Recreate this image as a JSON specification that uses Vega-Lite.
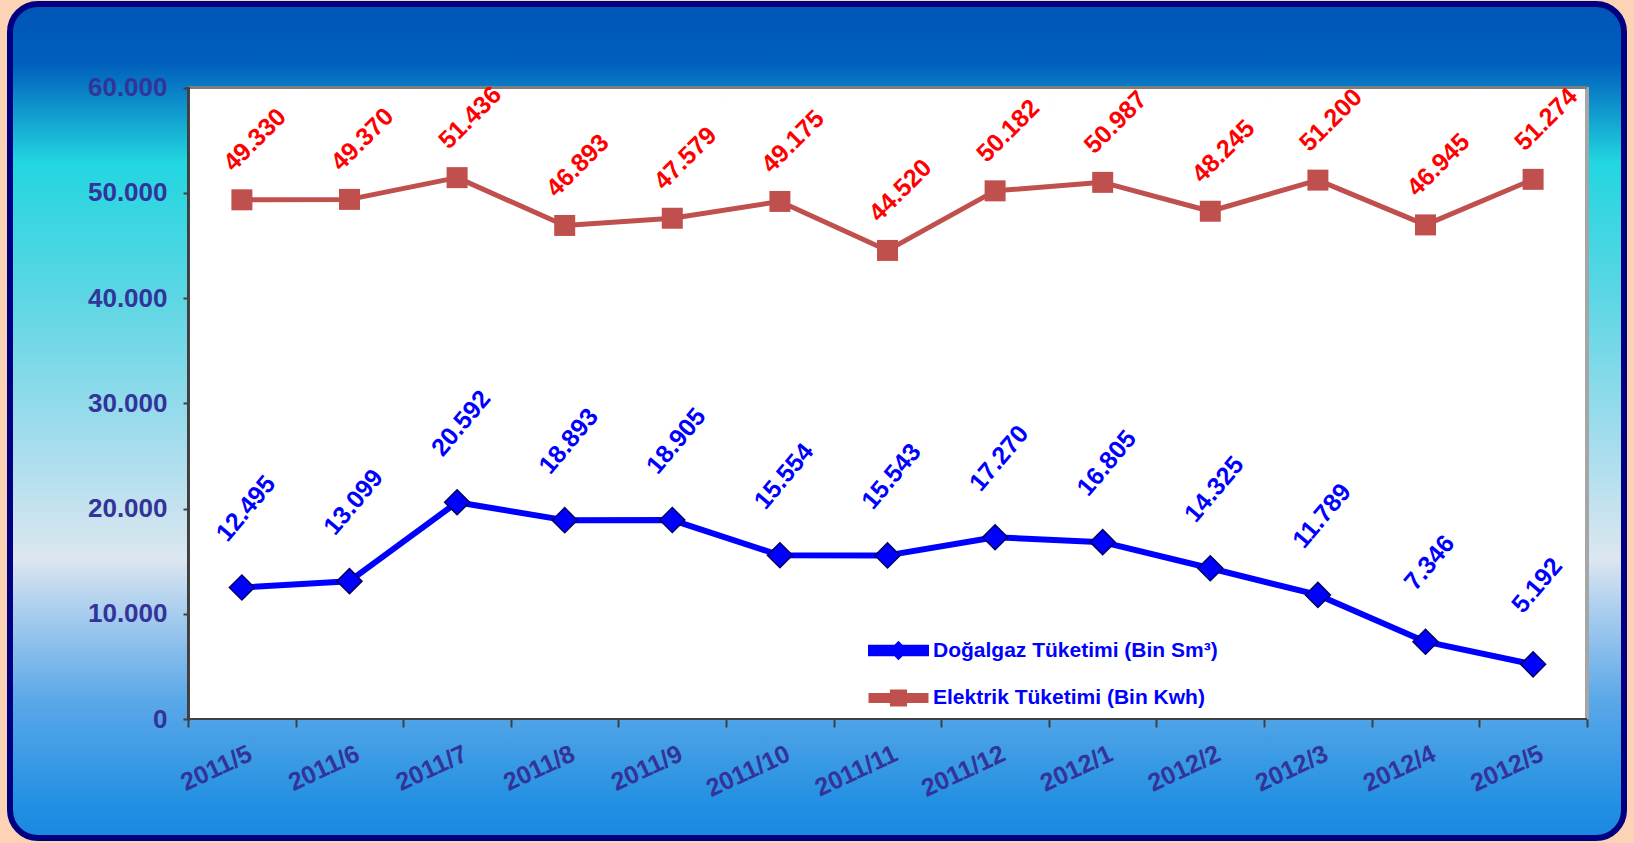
{
  "$schema": "https://vega.github.io/schema/vega-lite/v6.json",
  "width": 1614,
  "height": 834,
  "autosize": {"type": "none"},
  "padding": {"left": 10, "top": 4, "right": 10, "bottom": 5},
  "background": "#fcd3b4",
  "config": {
    "font": "Liberation Sans",
    "locale": {"number": {"decimal": ",", "thousands": ".", "grouping": [3], "currency": ["", ""]}},
    "view": {
      "fill": {
        "gradient": "linear", "x1": 0, "y1": 0, "x2": 0, "y2": 1,
        "stops": [
          {"offset": 0, "color": "#0056b8"},
          {"offset": 0.07, "color": "#005ebc"},
          {"offset": 0.19, "color": "#22d6e0"},
          {"offset": 0.35, "color": "#5cd6e4"},
          {"offset": 0.51, "color": "#9edcec"},
          {"offset": 0.665, "color": "#dce6f0"},
          {"offset": 0.735, "color": "#a4cbee"},
          {"offset": 0.835, "color": "#5aa8e8"},
          {"offset": 0.96, "color": "#2290e2"},
          {"offset": 1, "color": "#1a88e0"}
        ]
      },
      "stroke": "#000080",
      "strokeWidth": 6,
      "cornerRadius": 28
    },
    "axisX": {
      "zindex": 1,
      "offset": -119,
      "domain": false,
      "tickBand": "extent",
      "tickSize": 8,
      "tickWidth": 2,
      "tickColor": "#404040",
      "labelAngle": -25,
      "labelAlign": "right",
      "labelBaseline": "top",
      "labelPadding": 14,
      "labelOffset": 3,
      "labelFont": "Liberation Sans",
      "labelFontSize": 25,
      "labelFontWeight": "bold",
      "labelColor": "#333399",
      "labelOverlap": false,
      "labelBound": false,
      "grid": false
    },
    "axisY": {
      "zindex": 1,
      "offset": -180,
      "domain": false,
      "grid": false,
      "tickSize": 7,
      "tickWidth": 2,
      "tickColor": "#404040",
      "labelPadding": 16,
      "labelFont": "Liberation Sans",
      "labelFontSize": 26,
      "labelFontWeight": "bold",
      "labelColor": "#333399",
      "labelOverlap": false,
      "labelBound": false
    }
  },
  "data": {
    "values": [
      {"month": "2011/5", "series": "Doğalgaz Tüketimi (Bin Sm³)", "value": 12495},
      {"month": "2011/6", "series": "Doğalgaz Tüketimi (Bin Sm³)", "value": 13099},
      {"month": "2011/7", "series": "Doğalgaz Tüketimi (Bin Sm³)", "value": 20592},
      {"month": "2011/8", "series": "Doğalgaz Tüketimi (Bin Sm³)", "value": 18893},
      {"month": "2011/9", "series": "Doğalgaz Tüketimi (Bin Sm³)", "value": 18905},
      {"month": "2011/10", "series": "Doğalgaz Tüketimi (Bin Sm³)", "value": 15554},
      {"month": "2011/11", "series": "Doğalgaz Tüketimi (Bin Sm³)", "value": 15543},
      {"month": "2011/12", "series": "Doğalgaz Tüketimi (Bin Sm³)", "value": 17270},
      {"month": "2012/1", "series": "Doğalgaz Tüketimi (Bin Sm³)", "value": 16805},
      {"month": "2012/2", "series": "Doğalgaz Tüketimi (Bin Sm³)", "value": 14325},
      {"month": "2012/3", "series": "Doğalgaz Tüketimi (Bin Sm³)", "value": 11789},
      {"month": "2012/4", "series": "Doğalgaz Tüketimi (Bin Sm³)", "value": 7346},
      {"month": "2012/5", "series": "Doğalgaz Tüketimi (Bin Sm³)", "value": 5192},
      {"month": "2011/5", "series": "Elektrik Tüketimi (Bin Kwh)", "value": 49330},
      {"month": "2011/6", "series": "Elektrik Tüketimi (Bin Kwh)", "value": 49370},
      {"month": "2011/7", "series": "Elektrik Tüketimi (Bin Kwh)", "value": 51436},
      {"month": "2011/8", "series": "Elektrik Tüketimi (Bin Kwh)", "value": 46893},
      {"month": "2011/9", "series": "Elektrik Tüketimi (Bin Kwh)", "value": 47579},
      {"month": "2011/10", "series": "Elektrik Tüketimi (Bin Kwh)", "value": 49175},
      {"month": "2011/11", "series": "Elektrik Tüketimi (Bin Kwh)", "value": 44520},
      {"month": "2011/12", "series": "Elektrik Tüketimi (Bin Kwh)", "value": 50182},
      {"month": "2012/1", "series": "Elektrik Tüketimi (Bin Kwh)", "value": 50987},
      {"month": "2012/2", "series": "Elektrik Tüketimi (Bin Kwh)", "value": 48245},
      {"month": "2012/3", "series": "Elektrik Tüketimi (Bin Kwh)", "value": 51200},
      {"month": "2012/4", "series": "Elektrik Tüketimi (Bin Kwh)", "value": 46945},
      {"month": "2012/5", "series": "Elektrik Tüketimi (Bin Kwh)", "value": 51274}
    ]
  },
  "encoding": {
    "x": {
      "field": "month",
      "type": "ordinal",
      "scale": {
        "type": "band",
        "domain": ["2011/5", "2011/6", "2011/7", "2011/8", "2011/9", "2011/10", "2011/11", "2011/12", "2012/1", "2012/2", "2012/3", "2012/4", "2012/5"],
        "paddingInner": 0,
        "paddingOuter": 1.0124,
        "align": 0.8276
      },
      "axis": {"title": null}
    }
  },
  "layer": [
    {
      "transform": [{"filter": "datum.series === 'Doğalgaz Tüketimi (Bin Sm³)'"}],
      "mark": {"type": "rect", "fill": "white", "stroke": "white", "strokeWidth": 1},
      "encoding": {
        "y": {"datum": 0, "type": "quantitative", "scale": {"domain": [-11306, 67934], "nice": false, "zero": false}, "axis": {"title": null, "values": [0, 10000, 20000, 30000, 40000, 50000, 60000], "format": ",d"}},
        "y2": {"datum": 60000}
      }
    },
    {
      "mark": {"type": "rule", "stroke": "#a6a6a6", "strokeWidth": 3},
      "encoding": {
        "x": {"datum": "2012/5", "type": "ordinal", "bandPosition": 1, "axis": {"title": null}},
        "y": {"datum": 0, "type": "quantitative", "scale": {"domain": [-11306, 67934], "nice": false, "zero": false}, "axis": {"title": null, "values": [0, 10000, 20000, 30000, 40000, 50000, 60000], "format": ",d"}},
        "y2": {"datum": 60000}
      }
    },
    {
      "mark": {"type": "rule", "stroke": "#7f7f7f", "strokeWidth": 2},
      "encoding": {
        "x": {"datum": "2011/5", "type": "ordinal", "bandPosition": 0, "axis": {"title": null}},
        "x2": {"datum": "2012/5", "bandPosition": 1},
        "y": {"datum": 60000, "type": "quantitative", "scale": {"domain": [-11306, 67934], "nice": false, "zero": false}, "axis": {"title": null, "values": [0, 10000, 20000, 30000, 40000, 50000, 60000], "format": ",d"}}
      }
    },
    {
      "mark": {"type": "rule", "stroke": "#404040", "strokeWidth": 2},
      "encoding": {
        "x": {"datum": "2011/5", "type": "ordinal", "bandPosition": 0, "axis": {"title": null}},
        "y": {"datum": 0, "type": "quantitative", "scale": {"domain": [-11306, 67934], "nice": false, "zero": false}, "axis": {"title": null, "values": [0, 10000, 20000, 30000, 40000, 50000, 60000], "format": ",d"}},
        "y2": {"datum": 60000}
      }
    },
    {
      "mark": {"type": "rule", "stroke": "#404040", "strokeWidth": 2},
      "encoding": {
        "x": {"datum": "2011/5", "type": "ordinal", "bandPosition": 0, "axis": {"title": null}},
        "x2": {"datum": "2012/5", "bandPosition": 1},
        "y": {"datum": 0, "type": "quantitative", "scale": {"domain": [-11306, 67934], "nice": false, "zero": false}, "axis": {"title": null, "values": [0, 10000, 20000, 30000, 40000, 50000, 60000], "format": ",d"}}
      }
    },
    {
      "mark": {"type": "line", "strokeJoin": "round"},
      "encoding": {
        "y": {"field": "value", "type": "quantitative", "scale": {"domain": [-11306, 67934], "nice": false, "zero": false}, "axis": {"title": null, "values": [0, 10000, 20000, 30000, 40000, 50000, 60000], "format": ",d"}},
        "color": {
          "field": "series",
          "type": "nominal",
          "scale": {"domain": ["Doğalgaz Tüketimi (Bin Sm³)", "Elektrik Tüketimi (Bin Kwh)"], "range": ["#0000FF", "#C0504D"]},
          "legend": {
            "title": null,
            "orient": "none",
            "legendX": 874.5,
            "legendY": 632.5,
            "padding": 0,
            "symbolSize": 484,
            "labelOffset": 20.5,
            "rowPadding": 13,
            "labelFont": "Liberation Sans",
            "labelFontSize": 21,
            "labelFontWeight": "bold",
            "labelColor": "#0000FF",
            "labelLimit": 600,
            "encode": {
              "symbols": {
                "update": {
                  "shape": {"signal": "datum.value === 'Elektrik Tüketimi (Bin Kwh)' ? 'M-2.5,-0.22H2.5V0.22H-2.5Z M-0.55,-0.55H0.55V0.55H-0.55Z' : 'M-2.5,-0.25H2.5V0.25H-2.5Z M0,-0.5L0.5,0L0,0.5L-0.5,0Z'"},
                  "fill": {"signal": "datum.value === 'Elektrik Tüketimi (Bin Kwh)' ? '#C0504D' : '#0000FF'"},
                  "stroke": {"value": "transparent"},
                  "strokeWidth": {"value": 0},
                  "opacity": {"value": 1},
                  "fillOpacity": {"value": 1}
                }
              }
            }
          }
        },
        "strokeWidth": {
          "field": "series",
          "type": "nominal",
          "scale": {"domain": ["Doğalgaz Tüketimi (Bin Sm³)", "Elektrik Tüketimi (Bin Kwh)"], "range": [6, 5]},
          "legend": null
        }
      }
    },
    {
      "transform": [{"filter": "datum.series === 'Doğalgaz Tüketimi (Bin Sm³)'"}],
      "mark": {"type": "point", "shape": "diamond", "size": 625, "filled": true, "fill": "#0000FF", "stroke": "#000066", "strokeWidth": 1.5, "opacity": 1},
      "encoding": {
        "y": {"field": "value", "type": "quantitative", "scale": {"domain": [-11306, 67934], "nice": false, "zero": false}, "axis": {"title": null, "values": [0, 10000, 20000, 30000, 40000, 50000, 60000], "format": ",d"}}
      }
    },
    {
      "transform": [{"filter": "datum.series === 'Elektrik Tüketimi (Bin Kwh)'"}],
      "mark": {"type": "point", "shape": "square", "size": 441, "filled": true, "fill": "#C0504D", "strokeWidth": 0, "opacity": 1},
      "encoding": {
        "y": {"field": "value", "type": "quantitative", "scale": {"domain": [-11306, 67934], "nice": false, "zero": false}, "axis": {"title": null, "values": [0, 10000, 20000, 30000, 40000, 50000, 60000], "format": ",d"}}
      }
    },
    {
      "transform": [{"filter": "datum.series === 'Doğalgaz Tüketimi (Bin Sm³)'"}],
      "mark": {
        "type": "text", "angle": 310, "align": "center", "baseline": "middle",
        "font": "Liberation Sans", "fontSize": 25, "fontWeight": "bold", "fill": "#0000FF",
        "xOffset": 4, "yOffset": -79
      },
      "encoding": {
        "y": {"field": "value", "type": "quantitative", "scale": {"domain": [-11306, 67934], "nice": false, "zero": false}, "axis": {"title": null, "values": [0, 10000, 20000, 30000, 40000, 50000, 60000], "format": ",d"}},
        "text": {"field": "value", "type": "quantitative", "format": ",d"}
      }
    },
    {
      "transform": [{"filter": "datum.series === 'Elektrik Tüketimi (Bin Kwh)'"}],
      "mark": {
        "type": "text", "angle": 315, "align": "center", "baseline": "middle",
        "font": "Liberation Sans", "fontSize": 25, "fontWeight": "bold", "fill": "#FF0000",
        "xOffset": 13, "yOffset": -60
      },
      "encoding": {
        "y": {"field": "value", "type": "quantitative", "scale": {"domain": [-11306, 67934], "nice": false, "zero": false}, "axis": {"title": null, "values": [0, 10000, 20000, 30000, 40000, 50000, 60000], "format": ",d"}},
        "text": {"field": "value", "type": "quantitative", "format": ",d"}
      }
    }
  ]
}
